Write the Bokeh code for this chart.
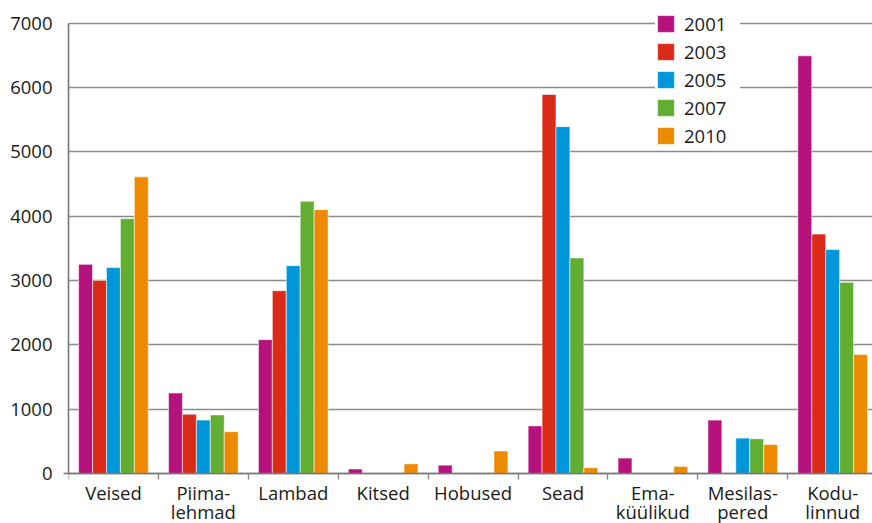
from bokeh.plotting import figure
from bokeh.models import (ColumnDataSource, Range1d, FixedTicker, Legend, LegendItem, Label)
from bokeh.embed import file_html
from bokeh.resources import INLINE

categories = ["Veised", "Piima-\nlehmad", "Lambad", "Kitsed", "Hobused", "Sead",
              "Ema-\nküülikud", "Mesilas-\npered", "Kodu-\nlinnud"]
years = ["2001", "2003", "2005", "2007", "2010"]
v2001 = [3250, 1250, 2080, 70, 130, 740, 240, 830, 6490]
v2003 = [3000, 920, 2840, 0, 0, 5890, 0, 0, 3720]
v2005 = [3200, 830, 3230, 0, 0, 5390, 0, 550, 3480]
v2007 = [3960, 910, 4230, 0, 0, 3350, 0, 540, 2970]
v2010 = [4610, 650, 4100, 150, 350, 90, 110, 450, 1850]
series = [v2001, v2003, v2005, v2007, v2010]
colors = ["#B5127E", "#DC2A19", "#0097DA", "#61AE33", "#EE8A00"]
y_ticks = [0, 1000, 2000, 3000, 4000, 5000, 6000, 7000]

FONT = "Open Sans"
FS = "18.5px"
TXT = "#1a1a1a"
n = len(categories)
bar_w = 0.155
offsets = [-2 * bar_w, -bar_w, 0, bar_w, 2 * bar_w]

# frame spans the full height so that labels and legend are not clipped
p = figure(width=872, height=523, output_backend="svg", toolbar_location=None,
           x_range=Range1d(-0.5, 8.443), y_range=Range1d(-777, 7350),
           min_border_left=68, min_border_right=0, min_border_top=0,
           min_border_bottom=0)
p.outline_line_color = None
p.background_fill_color = "white"
p.border_fill_color = "white"

items = []
for yr, vals, col, off in zip(years, series, colors, offsets):
    src = ColumnDataSource(dict(x=[i + off for i in range(n)], top=vals))
    r = p.vbar(x="x", top="top", width=bar_w, source=src, fill_color=col,
               line_color="white", line_alpha=0.55, line_width=1)
    items.append(LegendItem(label=yr, renderers=[r]))

# grid / axes
p.xgrid.grid_line_color = None
p.ygrid.grid_line_color = "#8c8c8c"
p.ygrid.grid_line_width = 1.4

p.yaxis.ticker = FixedTicker(ticks=y_ticks, minor_ticks=[0])
p.yaxis.bounds = (y_ticks[0], y_ticks[-1])
p.yaxis.axis_line_color = "#777777"
p.yaxis.axis_line_width = 1.6
p.yaxis.major_tick_line_color = None
p.yaxis.major_tick_out = 0
p.yaxis.major_tick_in = 0
p.yaxis.minor_tick_line_color = "#777777"
p.yaxis.minor_tick_line_width = 1.6
p.yaxis.minor_tick_out = 5
p.yaxis.minor_tick_in = 0
p.yaxis.major_label_standoff = 11
p.yaxis.major_label_text_font = FONT
p.yaxis.major_label_text_font_size = FS
p.yaxis.major_label_text_color = TXT

p.xaxis.fixed_location = 0
p.xaxis.ticker = FixedTicker(ticks=[], minor_ticks=[i - 0.5 for i in range(n)])
p.xaxis.axis_line_color = "#777777"
p.xaxis.axis_line_width = 1.6
p.xaxis.major_tick_line_color = None
p.xaxis.major_tick_out = 0
p.xaxis.major_tick_in = 0
p.xaxis.minor_tick_line_color = "#888888"
p.xaxis.minor_tick_line_width = 1.4
p.xaxis.minor_tick_out = 6
p.xaxis.minor_tick_in = 0
p.xaxis.major_label_standoff = 0

# category labels (one or two lines), centred under each group
for i, cat in enumerate(categories):
    for k, part in enumerate(cat.split("\n")):
        p.add_layout(Label(x=i, y=31 - 19 * k, x_units="data", y_units="screen",
                           text=part, text_align="center", text_baseline="alphabetic",
                           text_font=FONT, text_font_size=FS, text_color=TXT))

legend = Legend(items=items, location=(587, 375))
legend.border_line_color = None
legend.background_fill_color = "white"
legend.background_fill_alpha = 1.0
legend.glyph_width = 21
legend.glyph_height = 21
legend.label_height = 17
legend.label_width = 56
legend.spacing = 3
legend.padding = 11
legend.margin = 0
legend.label_standoff = 8
legend.label_text_font = FONT
legend.label_text_font_size = FS
legend.label_text_color = TXT
p.add_layout(legend)

open("out.html", "w").write(file_html(p, INLINE))
